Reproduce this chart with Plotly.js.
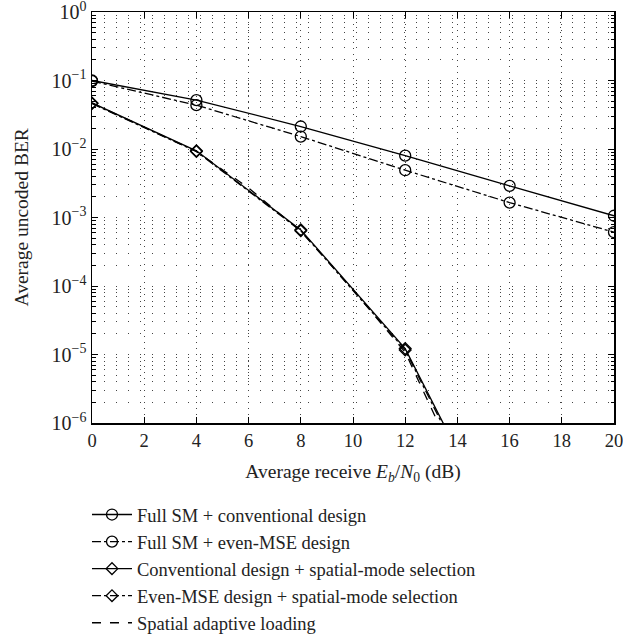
<!DOCTYPE html>
<html><head><meta charset="utf-8">
<script src="https://cdn.plot.ly/plotly-3.0.1.min.js"></script>
<style>body{margin:0;background:#fff}#chart{width:623px;height:642px}</style>
</head><body><div id="chart"></div>
<script>
// Data
const snrFull = [0, 4, 8, 12, 16, 20];
const berFullConv = [0.1, 0.0517, 0.0213, 0.0080, 0.0029, 0.00106];
const berFullEven = [0.098, 0.0437, 0.0152, 0.0049, 0.00165, 0.00061];
const snrSel = [0, 4, 8, 12, 14];
const berConvSel = [0.047, 0.0094, 0.00066, 1.22e-5, 3.9e-7];
const berEvenSel = [0.046, 0.0092, 0.00064, 1.16e-5, 3.5e-7];
const snrSAL = [0, 2, 4, 6, 8, 10, 12, 14];
const berSAL = [0.047, 0.021, 0.0092, 0.0027, 0.00063, 8.8e-5, 1.08e-5, 2.5e-7];
const yTickVals = [1e-6, 1e-5, 1e-4, 1e-3, 1e-2, 1e-1, 1];
const yTickText = ['10<sup>−6</sup>','10<sup>−5</sup>','10<sup>−4</sup>','10<sup>−3</sup>','10<sup>−2</sup>','10<sup>−1</sup>','10<sup>0</sup>'];
const names = ['Full SM + conventional design','Full SM + even-MSE design','Conventional design + spatial-mode selection','Even-MSE design + spatial-mode selection','Spatial adaptive loading'];

const font = 'Liberation Serif, Times New Roman, serif';
const lw = 1.3;
const mk = (sym, sz) => ({symbol: sym, size: sz, color: '#000', line: {width: 1.3, color: '#000'}});
const traces = [
  {x: snrFull, y: berFullConv, name: names[0], mode: 'lines+markers',
   line: {color: '#000', width: lw}, marker: mk('circle-open', 11)},
  {x: snrFull, y: berFullEven, name: names[1], mode: 'lines+markers',
   line: {color: '#000', width: lw, dash: 'dashdot'}, marker: mk('circle-open', 11)},
  {x: snrSel, y: berConvSel, name: names[2], mode: 'lines+markers',
   line: {color: '#000', width: lw}, marker: mk('diamond-open', 9)},
  {x: snrSel, y: berEvenSel, name: names[3], mode: 'lines+markers',
   line: {color: '#000', width: lw, dash: 'dashdot'}, marker: mk('diamond-open', 9)},
  {x: snrSAL, y: berSAL, name: names[4], mode: 'lines',
   line: {color: '#000', width: lw, dash: 'dash'}}
];

const gridDash = '1px,11px';
const H = 642, T = 12, B = 0, plotBottom = 423;
const yDomainStart = (H - B - plotBottom) / (H - T - B);
const layout = {
  width: 623, height: H,
  margin: {l: 92, r: 9, t: T, b: B},
  paper_bgcolor: '#fff', plot_bgcolor: '#fff',
  font: {family: font, color: '#000', size: 19},
  showlegend: true,
  legend: {x: -0.0096, y: 0.0, xanchor: 'left', yanchor: 'bottom',
           bgcolor: 'rgba(0,0,0,0)', font: {family: font, size: 18.5, color: '#222'}, tracegroupgap: 0, itemwidth: 40},
  xaxis: {
    range: [0, 20], dtick: 2, tick0: 0, automargin: false,
    showline: true, linecolor: '#000', linewidth: 1.5, mirror: 'ticks',
    ticks: 'inside', ticklen: 6, tickcolor: '#000', ticklabeloverflow: 'allow',
    showgrid: true, gridcolor: '#444', gridwidth: 1, griddash: '1px,5px',
    zeroline: false,
    tickfont: {family: font, size: 18.5, color: '#222'},
    title: {text: 'Average receive <i>E<sub>b</sub></i>/<i>N</i><sub>0</sub> (dB)', font: {family: font, size: 19.5, color: '#222'}, standoff: 14}
  },
  yaxis: {
    type: 'log', range: [-6, 0], domain: [yDomainStart, 1], automargin: false,
    tickvals: yTickVals, ticktext: yTickText, ticklabeloverflow: 'allow',
    showline: true, linecolor: '#000', linewidth: 1.5, mirror: 'ticks',
    ticks: 'inside', ticklen: 6, tickcolor: '#000',
    showgrid: true, gridcolor: '#444', gridwidth: 1, griddash: gridDash,
    minor: {dtick: 'D1', ticks: 'inside', ticklen: 3.5, tickcolor: '#000', showgrid: true, gridcolor: '#444', gridwidth: 1, griddash: gridDash},
    zeroline: false,
    tickfont: {family: font, size: 20, color: '#222'}
  },
  annotations: [{
    text: 'Average uncoded BER', textangle: -90, showarrow: false,
    xref: 'paper', yref: 'paper', x: (21 - 92) / 522, y: (yDomainStart + 1) / 2,
    xanchor: 'center', yanchor: 'middle',
    font: {family: font, size: 19.5, color: '#222'}
  }]
};
Plotly.newPlot('chart', traces, layout, {staticPlot: true, displayModeBar: false});
</script></body></html>
